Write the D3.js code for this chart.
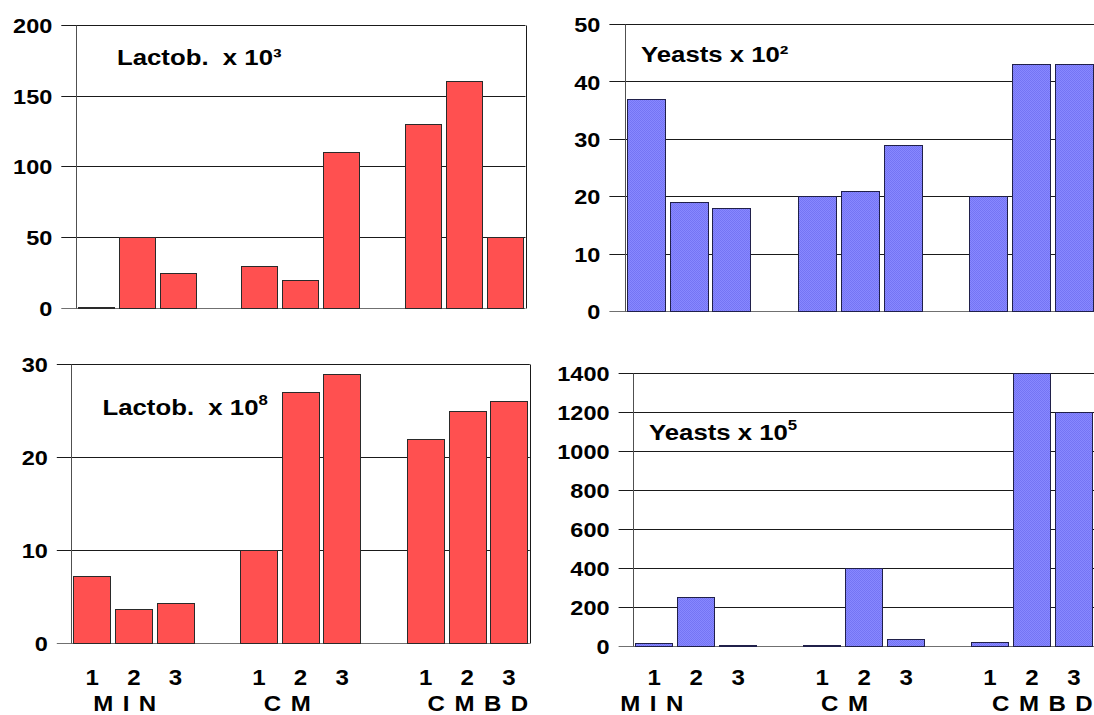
<!DOCTYPE html>
<html>
<head>
<meta charset="utf-8">
<script src="https://cdn.jsdelivr.net/npm/d3@7"></script>
<style>
  html, body { margin: 0; padding: 0; background: #fff; }
  svg { display: block; }
  text { font-family: "Liberation Sans", Arial, Helvetica, sans-serif; font-weight: bold; fill: #000; white-space: pre; }
</style>
</head>
<body>
<svg id="chart" width="1094" height="715"></svg>
<script>
// ---- data ----
const groups = ["M I N", "C M", "C M B D"];
const replicates = ["1", "2", "3"];

const lactob3 = [0.5, 50, 25, 30, 20, 110, 130, 160, 50];
const yeasts2 = [37, 19, 18, 20, 21, 29, 20, 43, 43];
const lactob8 = [7.2, 3.7, 4.3, 10, 27, 29, 22, 25, 26];
const yeasts5 = [12, 250, 3, 3, 400, 33, 17, 1400, 1200];

const ticksLactob3 = [0, 50, 100, 150, 200];
const ticksYeasts2 = [0, 10, 20, 30, 40, 50];
const ticksLactob8 = [0, 10, 20, 30];
const ticksYeasts5 = [0, 200, 400, 600, 800, 1000, 1200, 1400];

// ---- layout ----
const RED = "#ff5050";
const FS = 21;          // tick label size
const FS_TITLE = 23;    // panel title size
const FS_CAT = 21.5;    // category label size
const SX = 1.12;        // horizontal text stretch

const svg = d3.select("#chart");

// dithered blue fill
const defs = svg.append("defs");
const pat = defs.append("pattern").attr("id", "blueDither")
  .attr("width", 2).attr("height", 2).attr("patternUnits", "userSpaceOnUse");
pat.append("rect").attr("width", 2).attr("height", 2).attr("fill", "#8888ff");
pat.append("rect").attr("width", 1).attr("height", 1).attr("fill", "#7474f4");
pat.append("rect").attr("x", 1).attr("y", 1).attr("width", 1).attr("height", 1).attr("fill", "#7474f4");

// slot keys: three replicates per group, with an empty slot between groups
const slots = [];
groups.forEach((g, gi) => {
  replicates.forEach(r => slots.push(`${gi}-${r}`));
  if (gi < groups.length - 1) slots.push(`gap-${gi}`);
});
const barKeys = slots.filter(k => !k.startsWith("gap"));

const panels = [
  { values: lactob3, ticks: ticksLactob3, fill: RED, stroke: "#2a2a2a",
    x0: 75.8, x1: 525.5, y0: 24.7, y1: 308, tick0: 61.3, rightBorder: true,
    title: "Lactob.  x 10³", sup: null, tx: 117, ty: 64.5, xLabels: false },
  { values: yeasts2, ticks: ticksYeasts2, fill: "url(#blueDither)", stroke: "#20204a",
    x0: 624.7, x1: 1095.5, y0: 24, y1: 311.3, tick0: 609.4, rightBorder: false,
    title: "Yeasts x 10²", sup: null, tx: 641, ty: 62, xLabels: false },
  { values: lactob8, ticks: ticksLactob8, fill: RED, stroke: "#2a2a2a",
    x0: 71.3, x1: 529.8, y0: 364.3, y1: 643, tick0: 56.8, rightBorder: true,
    title: "Lactob.  x 10", sup: "8", tx: 102.5, ty: 415, xLabels: true, groupNudge: [1, 5, 2] },
  { values: yeasts5, ticks: ticksYeasts5, fill: "url(#blueDither)", stroke: "#20204a",
    x0: 633.2, x1: 1095, y0: 372.7, y1: 645.7, tick0: 618.6, rightBorder: false,
    title: "Yeasts x 10", sup: "5", tx: 649, ty: 439.5, xLabels: true, groupNudge: [-34, -1, 2] }
];

const crisp = v => Math.round(v) + 0.5;

function stretchedText(sel, x, y) {
  return sel.attr("transform", `translate(${x},${y}) scale(${SX},1)`);
}

panels.forEach(p => {
  const g = svg.append("g");
  const x = d3.scaleBand().domain(slots).range([p.x0, p.x1])
    .paddingInner(0.1).paddingOuter(0.05);
  const yMax = p.ticks[p.ticks.length - 1];
  const y = d3.scaleLinear().domain([0, yMax]).range([p.y1, p.y0]);

  // horizontal grid lines (extend left of the axis as ticks)
  g.selectAll("line.grid").data(p.ticks).join("line")
    .attr("x1", p.tick0).attr("x2", Math.min(p.x1, 1094))
    .attr("y1", d => crisp(y(d))).attr("y2", d => crisp(y(d)))
    .attr("stroke", d => d === 0 ? "#707070" : "#1a1a1a")
    .attr("stroke-width", 1);

  // vertical axis and right border
  g.append("line").attr("x1", crisp(p.x0)).attr("x2", crisp(p.x0))
    .attr("y1", crisp(y(yMax))).attr("y2", crisp(y(0)))
    .attr("stroke", "#505050");
  if (p.rightBorder) {
    g.append("line").attr("x1", crisp(p.x1)).attr("x2", crisp(p.x1))
      .attr("y1", crisp(y(yMax))).attr("y2", crisp(y(0)))
      .attr("stroke", "#1a1a1a");
  }

  // y tick labels
  g.selectAll("text.ytick").data(p.ticks).join("text")
    .attr("text-anchor", "end").attr("dominant-baseline", "central")
    .attr("font-size", FS)
    .each(function (d) { stretchedText(d3.select(this), p.tick0 - 9, y(d) + 1); })
    .text(d => d);

  // bars
  g.selectAll("rect.bar").data(p.values).join("rect")
    .attr("x", (d, i) => Math.round(x(barKeys[i])) + 0.5)
    .attr("width", Math.round(x.bandwidth()) - 1)
    .attr("y", d => Math.round(y(d)) + 0.5)
    .attr("height", d => Math.max(0, Math.round(y(0)) - Math.round(y(d))))
    .attr("fill", p.fill)
    .attr("stroke", p.stroke).attr("stroke-width", 1);

  // panel title
  const t = g.append("text").attr("font-size", FS_TITLE);
  stretchedText(t, p.tx, p.ty);
  t.append("tspan").text(p.title);
  if (p.sup) t.append("tspan").attr("font-size", 15).attr("dy", -10).text(p.sup);

  // category labels under the bars
  if (p.xLabels) {
    g.selectAll("text.rep").data(barKeys).join("text")
      .attr("text-anchor", "middle").attr("font-size", FS_CAT)
      .each(function (k) { stretchedText(d3.select(this), x(k) + x.bandwidth() / 2, 685); })
      .text(k => k.split("-")[1]);
    g.selectAll("text.grp").data(groups).join("text")
      .attr("text-anchor", "start").attr("font-size", FS_CAT)
      .attr("word-spacing", 2.5)
      .each(function (name, gi) {
        const first = `${gi}-${replicates[0]}`;
        stretchedText(d3.select(this), x(first) + x.bandwidth() / 2 + p.groupNudge[gi], 710.5);
      })
      .text(name => name);
  }
});
</script>
</body>
</html>
